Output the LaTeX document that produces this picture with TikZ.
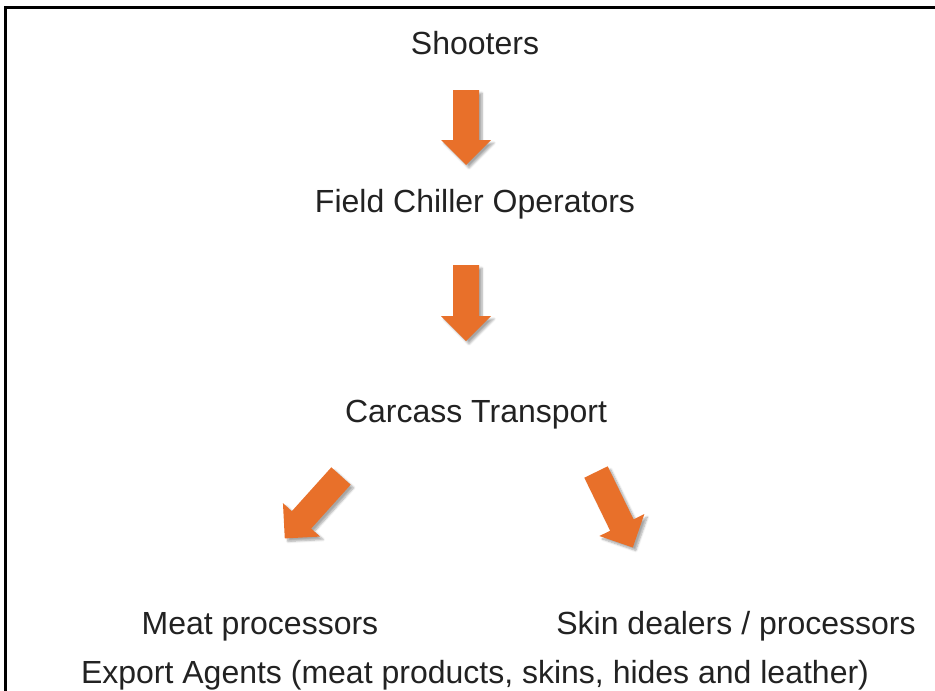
\documentclass[tikz,border=0pt]{standalone}
\usepackage{fontspec}
\setmainfont{Liberation Sans}
\usetikzlibrary{shadows.blur}
\definecolor{arroworange}{HTML}{E8702A}
\definecolor{labelgray}{HTML}{222222}
\tikzset{
  label/.style={anchor=base,inner sep=0pt,text=labelgray,
    font=\fontsize{32}{38}\selectfont},
  pics/blockarrow/.style={code={
    \fill[arroworange,blur shadow={shadow xshift=3pt,shadow yshift=-3pt,
        shadow blur steps=6,shadow opacity=35}]
      (-13,0) -- (13,0) -- (13,#1-25) -- (25,#1-25) -- (0,#1)
      -- (-25,#1-25) -- (-13,#1-25) -- cycle;
  }}
}
\begin{document}
\begin{tikzpicture}[x=1pt,y=-1pt]
  \useasboundingbox (0,0) rectangle (935,691);
  % frame
  \draw[line width=3pt] (5,700) -- (5,7) -- (945,7);
  % the chain of handlers
  \node[label] (shooters) at (475,54) {Shooters};
  \node[label] (chiller) at (475,212) {Field Chiller Operators};
  \node[label] (transport) at (476,422) {Carcass Transport};
  \node[label] (meat) at (260,634) {Meat processors};
  \node[label] (skin) at (736,634) {Skin dealers / processors};
  \node[label] (export) at (475,683) {Export Agents (meat products, skins, hides and leather)};
  % arrows between them
  \pic at (466,90) {blockarrow=75};
  \pic at (466,265) {blockarrow=76};
  \pic[rotate=-42] at (341,476) {blockarrow=84};
  \pic[rotate=26] at (596,472) {blockarrow=84};
\end{tikzpicture}
\end{document}
